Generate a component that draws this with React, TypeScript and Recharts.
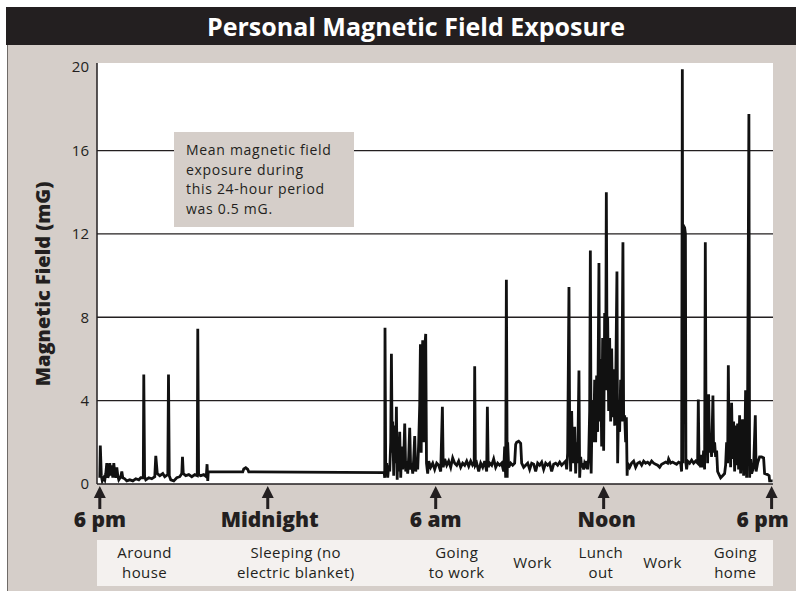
import { CartesianGrid, Line, LineChart, XAxis, YAxis } from "recharts";

// readings as [hours after 6 pm, mG]
const evening: [number, number][] = [
  [0.0, 0.3], [0.018, 1.85], [0.054, 0.4], [0.089, 0.15], [0.143, 0.3], [0.179, 0.2],
  [0.214, 0.5], [0.25, 1.0], [0.286, 0.3], [0.339, 0.5], [0.357, 1.0], [0.393, 0.4],
  [0.429, 0.9], [0.464, 0.3], [0.5, 1.0], [0.536, 0.5], [0.571, 0.3], [0.607, 0.8],
  [0.643, 0.4], [0.679, 0.2], [0.75, 0.35], [0.786, 0.6], [0.821, 0.3], [0.893, 0.25],
  [0.964, 0.15], [1.071, 0.2], [1.179, 0.15], [1.286, 0.25], [1.393, 0.2], [1.464, 0.3],
  [1.554, 0.3], [1.571, 5.25], [1.6, 0.35], [1.643, 0.2], [1.75, 0.3], [1.857, 0.25],
  [1.964, 0.35], [2.0, 1.35], [2.054, 0.5], [2.143, 0.4], [2.25, 0.5], [2.321, 0.35],
  [2.429, 0.45], [2.454, 5.25], [2.482, 0.4], [2.536, 0.2], [2.643, 0.15], [2.75, 0.3],
  [2.857, 0.35], [2.929, 0.5], [2.954, 1.3], [2.982, 0.5], [3.071, 0.4], [3.179, 0.45],
  [3.286, 0.35], [3.393, 0.45], [3.482, 0.4], [3.5, 7.45], [3.529, 0.45], [3.607, 0.4],
  [3.714, 0.45], [3.804, 0.35], [3.832, 0.95], [3.857, 0.15], [3.875, 0.58],
];

const night: [number, number][] = [
  [5.107, 0.58], [5.143, 0.72], [5.214, 0.78], [5.286, 0.7], [5.321, 0.58], [10.16, 0.55],
];

const morning: [number, number][] = [
  [10.179, 0.3], [10.189, 7.5], [10.214, 0.8], [10.25, 1.0], [10.286, 0.3], [10.321, 0.9],
  [10.357, 0.6], [10.393, 2.0], [10.418, 6.25], [10.446, 1.5], [10.464, 3.0], [10.5, 0.4],
  [10.536, 2.8], [10.571, 1.0], [10.596, 3.7], [10.625, 0.2], [10.643, 2.0], [10.679, 0.6],
  [10.714, 2.5], [10.75, 0.3], [10.786, 1.8], [10.821, 0.7], [10.857, 1.2], [10.893, 2.9],
  [10.929, 0.6], [10.964, 1.1], [11.0, 0.5], [11.036, 1.3], [11.071, 2.7], [11.107, 0.7],
  [11.143, 1.0], [11.179, 0.5], [11.214, 1.2], [11.25, 2.3], [11.286, 0.6], [11.321, 1.1],
  [11.357, 0.7], [11.393, 2.0], [11.429, 3.8], [11.454, 6.7], [11.482, 1.5], [11.5, 5.0],
  [11.536, 6.9], [11.571, 2.0], [11.607, 6.5], [11.643, 7.2], [11.671, 1.0], [11.714, 0.5],
  [11.75, 1.1], [11.821, 0.8], [11.893, 1.0], [11.964, 0.7], [12.036, 1.0], [12.107, 0.9],
  [12.179, 0.6], [12.239, 3.7], [12.268, 0.8], [12.321, 1.2], [12.393, 0.9], [12.464, 1.1],
  [12.536, 0.8], [12.607, 1.25], [12.679, 1.0], [12.75, 0.9], [12.821, 1.1], [12.893, 0.8],
  [12.964, 1.0], [13.036, 0.9], [13.107, 1.1], [13.179, 0.85], [13.25, 1.1], [13.321, 0.9],
  [13.375, 1.0], [13.393, 5.65], [13.418, 0.9], [13.464, 1.0], [13.536, 0.6], [13.607, 1.0],
  [13.679, 0.8], [13.75, 1.1], [13.821, 0.6], [13.846, 3.7], [13.875, 0.8], [13.929, 1.0],
  [14.0, 0.9], [14.071, 1.2], [14.143, 0.8], [14.214, 1.0], [14.286, 0.9], [14.357, 1.0],
  [14.429, 0.6], [14.464, 1.8], [14.5, 0.3], [14.525, 9.8], [14.554, 0.3], [14.571, 2.0],
  [14.607, 0.8], [14.679, 1.0], [14.75, 0.9], [14.821, 1.0], [14.857, 1.9], [14.893, 2.0],
  [14.964, 2.05], [15.036, 1.95], [15.071, 1.0], [15.143, 0.8], [15.214, 0.9],
];

const midday: [number, number][] = [
  [15.286, 1.0], [15.357, 0.7], [15.429, 1.0], [15.5, 0.95], [15.571, 0.6], [15.643, 1.0],
  [15.714, 0.9], [15.786, 1.05], [15.857, 0.7], [15.929, 1.0], [16.0, 0.9], [16.071, 1.0],
  [16.143, 0.6], [16.214, 0.95], [16.286, 1.0], [16.357, 0.9], [16.429, 1.05], [16.5, 0.9],
  [16.571, 1.0], [16.643, 1.1], [16.679, 0.7], [16.714, 1.5], [16.761, 9.45], [16.786, 2.5],
  [16.821, 0.6], [16.857, 3.5], [16.893, 1.0], [16.929, 2.0], [16.964, 2.75], [17.0, 0.5],
  [17.036, 2.0], [17.071, 1.0], [17.118, 5.45], [17.143, 0.3], [17.179, 1.3], [17.214, 0.8],
  [17.25, 1.0], [17.286, 0.7], [17.321, 1.0], [17.357, 0.9], [17.393, 1.1], [17.429, 0.7],
  [17.464, 1.2], [17.5, 3.5], [17.525, 11.2], [17.554, 0.5], [17.571, 2.0], [17.607, 4.0],
  [17.643, 2.0], [17.679, 5.0], [17.714, 2.0], [17.75, 5.2], [17.786, 2.5], [17.832, 10.6],
  [17.857, 3.0], [17.893, 6.0], [17.929, 1.8], [17.964, 7.0], [18.0, 1.6], [18.036, 8.2],
  [18.071, 4.5], [18.096, 14.0], [18.125, 5.0], [18.143, 8.0], [18.179, 3.5], [18.214, 7.0],
  [18.25, 3.0], [18.286, 6.5], [18.321, 3.2], [18.357, 5.5], [18.393, 2.8], [18.429, 4.5],
  [18.475, 10.2], [18.5, 1.0], [18.536, 4.0], [18.571, 2.5], [18.607, 5.0], [18.643, 3.0],
  [18.689, 11.6], [18.714, 3.0], [18.75, 3.3], [18.786, 2.0], [18.811, 3.2], [18.839, 0.4],
  [18.857, 1.0], [18.929, 0.8],
];

const afternoon: [number, number][] = [
  [19.0, 1.0], [19.071, 1.1], [19.143, 0.8], [19.214, 1.0], [19.286, 1.05], [19.357, 0.9],
  [19.429, 1.1], [19.5, 1.0], [19.571, 1.05], [19.643, 0.95], [19.714, 1.1], [19.786, 1.0],
  [19.857, 0.95], [19.929, 0.9], [20.0, 0.8], [20.071, 0.95], [20.143, 1.0], [20.214, 1.05],
  [20.286, 1.0], [20.321, 1.2], [20.393, 1.0], [20.464, 1.05], [20.536, 1.0], [20.607, 0.95],
  [20.679, 1.05], [20.75, 1.0], [20.786, 0.6], [20.811, 19.9], [20.832, 1.0], [20.85, 12.4],
  [20.893, 12.3], [20.921, 12.0], [20.939, 1.0], [20.964, 0.7], [21.0, 1.1], [21.071, 1.0],
  [21.143, 1.15], [21.214, 1.0], [21.286, 1.1], [21.357, 1.0], [21.382, 4.05], [21.407, 1.0],
  [21.429, 1.2], [21.464, 0.8], [21.5, 1.4], [21.536, 0.8], [21.571, 1.6], [21.607, 0.7],
  [21.632, 11.6], [21.661, 1.5], [21.679, 4.3], [21.714, 1.0], [21.75, 4.3], [21.786, 1.5],
  [21.821, 2.0], [21.857, 1.3], [21.904, 4.25], [21.929, 1.5], [21.964, 2.0], [22.0, 1.3],
  [22.036, 1.6], [22.071, 0.6], [22.107, 0.5], [22.179, 0.3], [22.25, 0.4], [22.321, 0.5],
  [22.357, 0.9], [22.393, 2.0], [22.429, 1.0], [22.454, 5.7], [22.482, 1.5], [22.5, 3.5],
  [22.536, 0.8], [22.571, 3.9], [22.607, 1.2], [22.643, 3.0], [22.679, 0.6], [22.714, 2.8],
  [22.75, 0.9], [22.786, 2.9], [22.821, 0.7], [22.857, 3.3], [22.893, 0.5], [22.929, 2.5],
  [22.964, 3.1], [23.0, 0.4], [23.036, 1.0], [23.071, 4.5], [23.107, 0.3], [23.143, 4.0],
  [23.189, 17.75], [23.214, 0.3], [23.25, 1.2], [23.286, 0.5], [23.357, 0.8], [23.418, 3.3],
  [23.446, 0.6], [23.5, 1.0], [23.571, 1.3], [23.643, 1.3], [23.714, 1.25], [23.75, 0.5],
  [23.857, 0.45], [23.911, 0.4], [23.929, 0.15], [24.036, 0.15],
];

const yTicks = [0, 4, 8, 12, 16, 20];
const gridValues = [4, 8, 12, 16];
const clockHours = [0, 6, 12, 18, 24];
const clockLabels = ["6 pm", "Midnight", "6 am", "Noon", "6 pm"];
const activityHours = [1.6, 7.0, 12.75, 15.46, 17.9, 20.1, 22.7];
const activityLabels = [
  ["Around", "house"],
  ["Sleeping (no", "electric blanket)"],
  ["Going", "to work"],
  ["Work"],
  ["Lunch", "out"],
  ["Work"],
  ["Going", "home"],
];
const noteLines = [
  "Mean magnetic field",
  "exposure during",
  "this 24-hour period",
  "was 0.5 mG.",
];

const readings = [...evening, ...night, ...morning, ...midday, ...afternoon].map(
  ([hour, mG]) => ({ hour, mG })
);

const INK = "#231f20";
const TAN = "#d5cec9";
const FONT = "'Open Sans', 'Noto Sans', sans-serif";

function ClockTick(props: any) {
  const { x, payload } = props;
  const i = clockHours.indexOf(payload.value);
  const shift = payload.value === 24 ? -9 : payload.value === 18 ? 3 : payload.value === 6 ? 2 : 0;
  return (
    <g>
      <path d={`M${x},486 L${x - 6},498 L${x + 6},498 Z`} fill={INK} />
      <rect x={x - 1.5} y={496} width={3} height={13} fill={INK} />
      <text
        x={x + shift}
        y={527}
        textAnchor="middle"
        fontFamily={FONT}
        fontWeight={800}
        fontSize={21}
        fill={INK}
      >
        {clockLabels[i]}
      </text>
    </g>
  );
}

function ActivityTick(props: any) {
  const { x, payload } = props;
  const lines = activityLabels[activityHours.indexOf(payload.value)] ?? [];
  const y0 = lines.length === 1 ? 568 : 557.5;
  return (
    <g>
      {lines.map((l, k) => (
        <text
          key={k}
          x={x}
          y={y0 + k * 20.5}
          textAnchor="middle"
          fontFamily={FONT}
          fontSize={15}
          letterSpacing={0.4}
          fill={INK}
        >
          {l}
        </text>
      ))}
    </g>
  );
}

export default function App() {
  return (
    <div
      style={{
        position: "absolute",
        left: 0,
        top: 0,
        width: 796,
        height: 591,
        background: "#fff",
        fontFamily: FONT,
        overflow: "hidden",
      }}
    >
      <div
        style={{
          position: "absolute",
          left: 7,
          top: 44,
          width: 789,
          height: 547,
          background: TAN,
          borderLeft: "1px solid #6f6b68",
        }}
      />
      <div
        style={{
          position: "absolute",
          left: 6,
          top: 7,
          width: 790,
          height: 38,
          background: INK,
          color: "#fff",
          fontWeight: 700,
          fontSize: 25,
          lineHeight: "38px",
          textAlign: "center",
          paddingLeft: 30,
          boxSizing: "border-box",
        }}
      >
        Personal Magnetic Field Exposure
      </div>
      <div
        style={{
          position: "absolute",
          left: 97,
          top: 540,
          width: 676,
          height: 46,
          background: "#f4f1ef",
        }}
      />
      <div style={{ position: "absolute", left: 0, top: 0 }}>
        <LineChart
          width={796}
          height={591}
          data={readings}
          margin={{ top: 63, right: 23, bottom: 5, left: 0 }}
        >
          <CartesianGrid
            vertical={false}
            horizontalValues={gridValues}
            stroke={INK}
            strokeWidth={1.3}
            fill="#ffffff"
            fillOpacity={1}
          />
          <XAxis
            dataKey="hour"
            type="number"
            domain={[-0.1, 24.05]}
            allowDataOverflow
            ticks={clockHours}
            interval={0}
            tickLine={false}
            axisLine={{ stroke: INK, strokeWidth: 1.5 }}
            height={56}
            tick={<ClockTick />}
          />
          <XAxis
            xAxisId="act"
            dataKey="hour"
            type="number"
            domain={[-0.1, 24.05]}
            allowDataOverflow
            ticks={activityHours}
            interval={0}
            tickLine={false}
            axisLine={false}
            height={46}
            tick={<ActivityTick />}
          />
          <YAxis
            type="number"
            domain={[0, 20.2]}
            allowDataOverflow
            ticks={yTicks}
            interval={0}
            width={97}
            tickLine={false}
            axisLine={{ stroke: INK, strokeWidth: 1.5 }}
            tick={{ fill: INK, fontSize: 15, fontFamily: FONT }}
            label={{
              content: () => (
                <text
                  x={50}
                  y={284}
                  transform="rotate(-90 50 284)"
                  textAnchor="middle"
                  fontFamily={FONT}
                  fontWeight={800}
                  fontSize={20}
                  fill={INK}
                >
                  Magnetic Field (mG)
                </text>
              ),
            }}
          />
          <Line
            dataKey="mG"
            type="linear"
            stroke="#111"
            strokeWidth={2.8}
            dot={false}
            isAnimationActive={false}
          />
        </LineChart>
      </div>
      <div
        style={{
          position: "absolute",
          left: 174,
          top: 132,
          width: 180,
          height: 95,
          background: TAN,
          boxSizing: "border-box",
          padding: "8px 0 0 12px",
          fontSize: 14,
          letterSpacing: 0.7,
          lineHeight: "19.5px",
          color: INK,
          whiteSpace: "nowrap",
        }}
      >
        {noteLines.map((l) => (
          <div key={l}>{l}</div>
        ))}
      </div>
    </div>
  );
}
